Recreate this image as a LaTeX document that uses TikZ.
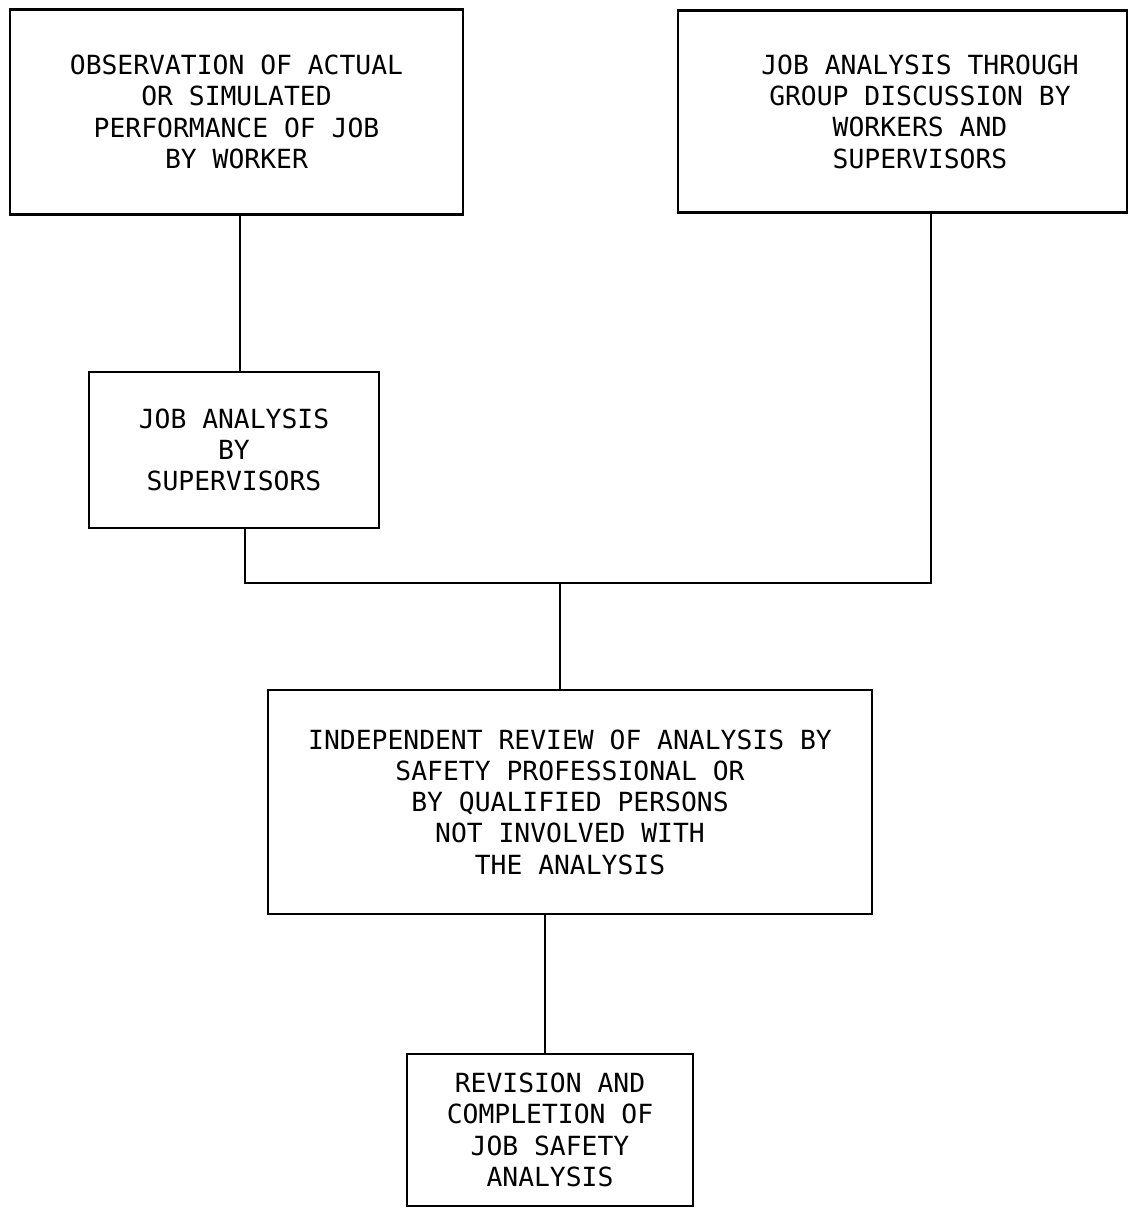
\documentclass[tikz,border=0pt]{standalone}
\usepackage{fontspec}
\setmonofont{DejaVu Sans Mono}
\usetikzlibrary{positioning}
\usetikzlibrary{calc}

\tikzset{
  stepbox/.style = {draw, line width=1.4pt, align=center, inner sep=0pt,
                    font=\ttfamily\fontsize{15}{17.8}\selectfont},
  link/.style    = {line width=1.2pt}
}

\begin{document}
\begin{tikzpicture}[x=0.02cm, y=-0.02cm]
\useasboundingbox (0,0) rectangle (1131,1208);

\node[stepbox, minimum width=9.06cm, minimum height=4.1cm] (observe) at (236.5,112)
  {OBSERVATION OF ACTUAL\\OR SIMULATED\\PERFORMANCE OF JOB\\BY WORKER};
\node[stepbox, minimum width=8.98cm, minimum height=4.04cm] (group) at (902.5,111.5)
  {\hspace{0.7cm}JOB ANALYSIS THROUGH\\\hspace{0.7cm}GROUP DISCUSSION BY\\\hspace{0.7cm}WORKERS AND\\\hspace{0.7cm}SUPERVISORS};
\node[stepbox, minimum width=5.8cm, minimum height=3.12cm] (jobsup) at (234,450)
  {JOB ANALYSIS\\BY\\SUPERVISORS};
\node[stepbox, minimum width=12.08cm, minimum height=4.48cm] (review) at (570,802)
  {INDEPENDENT REVIEW OF ANALYSIS BY\\SAFETY PROFESSIONAL OR\\BY QUALIFIED PERSONS\\NOT INVOLVED WITH\\THE ANALYSIS};
\node[stepbox, minimum width=5.72cm, minimum height=3.04cm] (final) at (550,1130)
  {REVISION AND\\COMPLETION OF\\JOB SAFETY\\ANALYSIS};

\coordinate (join) at (560,583);

% connectors
\draw[link] ([xshift=0.07cm]observe.south) -- ([xshift=0.07cm]observe.south |- jobsup.north);
\draw[link] ([xshift=0.22cm]jobsup.south) |- (join)
            -| ([xshift=0.57cm]group.south);
\draw[link] (join) -- (join |- review.north);
\draw[link] ([xshift=-0.1cm]final.north) -- ([xshift=-0.1cm]final.north |- review.south);
\end{tikzpicture}
\end{document}
